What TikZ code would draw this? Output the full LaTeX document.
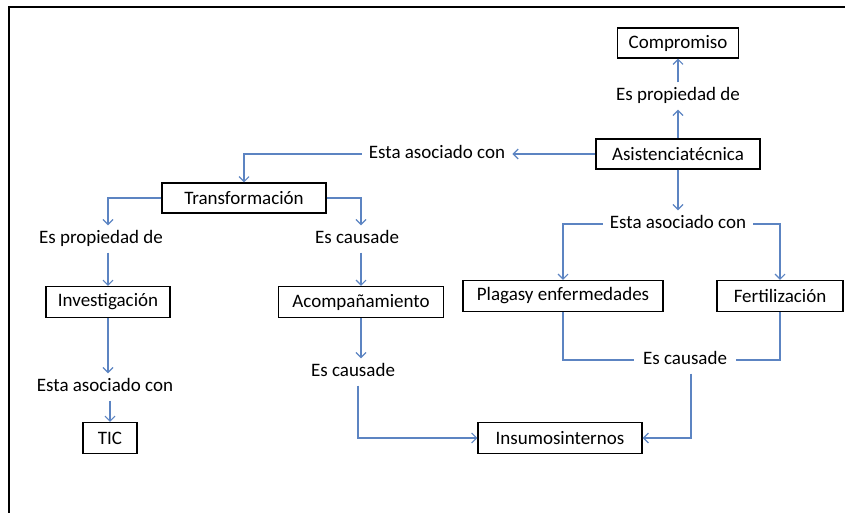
\documentclass[tikz,border=0pt]{standalone}
\usepackage{fontspec}
\setmainfont{Carlito}
\usetikzlibrary{calc}
\usetikzlibrary{arrows.meta}
\definecolor{linkblue}{RGB}{92,132,194}

\begin{document}
\begin{tikzpicture} [x=1pt, y=-1pt,
  font=\fontsize{19}{22}\selectfont,
  box/.style={draw=black, line width=1.1pt, minimum height=30, inner sep=0pt},
  rel/.style={inner xsep=7pt, inner ysep=5pt, text height=13pt, text depth=4pt},
  link/.style={draw=linkblue, line width=1.3pt},
  >={Straight Barb[length=5pt, width=10pt, line width=1.2pt]}]
\useasboundingbox (0,0) rectangle (845,513);
\draw[line width=2pt] (9,513)--(9,7)--(845,7);

\node[box, minimum width=121] (comp) at (678,43) {Compromiso};
\node[rel] (prop1) at (678,96) {Es propiedad de};
\node[box, minimum width=164] (asis) at (678,154) {Asistenciatécnica};
\node[rel] (asoc1) at (437,154) {Esta asociado con};
\node[box, minimum width=164] (trans) at (244,198) {Transformación};
\node[rel] (prop2) at (101,239) {Es propiedad de};
\node[rel] (causa1) at (357,239) {Es causade};
\node[box, minimum width=124, minimum height=31] (inv) at (108,302) {Investigación};
\node[box, minimum width=165, minimum height=31] (acom) at (361,302) {Acompañamiento};
\node[rel] (asoc2) at (105,387) {Esta asociado con};
\node[box, minimum width=54, minimum height=31] (tic) at (110,438) {TIC};
\node[rel] (causa2) at (353,372) {Es causade};
\node[box, minimum width=164, minimum height=31] (ins) at (560,438) {Insumosinternos};
\node[rel] (asoc3) at (678,224) {Esta asociado con};
\node[box, minimum width=200, minimum height=31] (plag) at (563,296) {Plagasy enfermedades};
\node[box, minimum width=126, minimum height=31] (fert) at (780,296) {Fertilización};
\node[rel, inner xsep=9pt] (causa3) at (685,360) {Es causade};

\draw[link, ->] (asis.north) -- (prop1.south);
\draw[link, ->] (prop1.north) -- (comp.south);
\draw[link, ->] (asis.west) -- (asoc1.east);
\draw[link, ->] (asoc1.west) -| (trans.north);
\draw[link, ->] (trans.west) -| (inv.north |- prop2.north);
\draw[link, ->] (inv.north |- prop2.south) -- (inv.north);
\draw[link, ->] (inv.south) -- (inv.south |- asoc2.north);
\draw[link, ->] (tic.north |- asoc2.south) -- (tic.north);
\draw[link, ->] (trans.east) -| (acom.north |- causa1.north);
\draw[link, ->] (acom.north |- causa1.south) -- (acom.north);
\draw[link, ->] (acom.south) -- (acom.south |- causa2.north);
\draw[link, ->] ([xshift=5pt]causa2.south) |- (ins.west);
\draw[link, ->] (asis.south) -- (asoc3.north);
\draw[link, ->] (asoc3.west) -| (plag.north);
\draw[link, ->] (asoc3.east) -| (fert.north);
\draw[link] (plag.south) |- (causa3.west);
\draw[link] (fert.south) |- (causa3.east);
\draw[link, ->] ([xshift=6pt]causa3.south) |- (ins.east);
\end{tikzpicture}
\end{document}
